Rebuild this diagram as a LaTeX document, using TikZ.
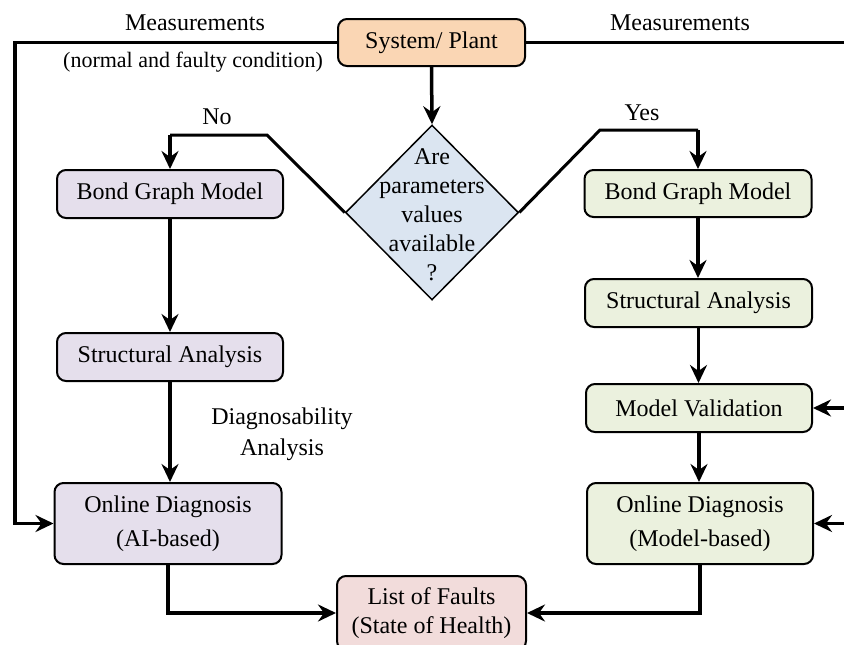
\documentclass[tikz,border=0pt]{standalone}
\usepackage{fontspec}
\setmainfont{Liberation Serif}
\usetikzlibrary{arrows.meta,shapes.geometric}
\definecolor{cOrange}{HTML}{FAD6B4}
\definecolor{cLav}{HTML}{E5DFEC}
\definecolor{cGreen}{HTML}{EBF1DE}
\definecolor{cBlue}{HTML}{DBE5F1}
\definecolor{cPink}{HTML}{F2DCDB}
\begin{document}
\begin{tikzpicture}[x=1pt,y=-1pt,
  every node/.style={font=\fontsize{24}{29}\selectfont, inner sep=0pt},
  box/.style={draw, line width=2pt, rounded corners=9pt, align=center},
  twoline/.style={font=\fontsize{24}{34}\selectfont},
  conn/.style={line width=3.5pt, -{Stealth[length=18pt,width=17pt,inset=6pt]}},
  plain/.style={line width=3.5pt},
  diag/.style={line width=3pt}]
\useasboundingbox (0,0) rectangle (844,645);
\clip (0,0) rectangle (844,645);
\fill[white] (0,0) rectangle (844,645);

% boxes
\node[box, fill=cOrange, minimum width=187pt, minimum height=47pt] (sys) at (431.5,42.5) {System/ Plant};
\node[draw, line width=1.5pt, fill=cBlue, shape=diamond, minimum width=173pt, minimum height=175pt] (dia) at (432,212.5) {};
\node[align=center] (diat) at (432,215) {Are\\parameters\\values\\available\\?};

\node[box, fill=cLav, minimum width=226pt, minimum height=48pt] (bgL) at (170,194) {Bond Graph Model};
\node[box, fill=cLav, minimum width=226pt, minimum height=48pt] (saL) at (170,357) {Structural Analysis};
\node[box, twoline, fill=cLav, minimum width=227pt, minimum height=81pt] (odL) at (168,523.5) {Online Diagnosis\\(AI-based)};

\node[box, fill=cGreen, minimum width=227pt, minimum height=47pt] (bgR) at (698,193.5) {Bond Graph Model};
\node[box, fill=cGreen, minimum width=227pt, minimum height=48pt] (saR) at (698.5,303) {Structural Analysis};
\node[box, fill=cGreen, minimum width=226pt, minimum height=48pt] (mvR) at (699,408) {Model Validation};
\node[box, twoline, fill=cGreen, minimum width=226pt, minimum height=81pt] (odR) at (700,523.5) {Online Diagnosis\\(Model-based)};

\node[box, fill=cPink, minimum width=189pt, minimum height=74pt] (lof) at (431.5,613) {List of Faults\\(State of Health)};

% labels
\node (mL) at (195,23) {Measurements};
\node[font=\fontsize{22}{26}\selectfont] (nf) at (193,62) {(normal and faulty condition)};
\node (mR) at (680,23) {Measurements};
\node (no) at (217,117) {No};
\node (yes) at (642,113) {Yes};
\node[align=center, font=\fontsize{24}{31}\selectfont] (da) at (282,434) {Diagnosability\\Analysis};

% coordinates
\coordinate (tl) at (15,42.5);
\coordinate (bl) at (15,523.5);
\coordinate (tr) at (850,42.5);
\coordinate (nL) at (267,135);
\coordinate (nL2) at (170,135);
\coordinate (yR) at (600,130);
\coordinate (yR2) at (698,130);
\coordinate (inMV) at (850,408);
\coordinate (inOD) at (850,523.5);
\coordinate (lL) at (168,613);
\coordinate (lR) at (700,613);

% connectors
\draw[conn] (sys.west) -- (tl) -- (bl) -- (odL.west);
\draw[plain] (sys.east) -- (tr);
\draw[conn] (sys.south) -- (dia.north);
\draw[diag] (dia.west) -- (nL) -- (nL2);
\draw[conn] (nL2) -- (bgL.north);
\draw[diag] (dia.east) -- (yR) -- (yR2);
\draw[conn] (yR2) -- (bgR.north);
\draw[conn] (bgL.south) -- (saL.north);
\draw[conn] (saL.south) -- (saL.south |- odL.north);
\draw[conn] (bgR.south) -- (bgR.south |- saR.north);
\draw[conn] (saR.south) -- (saR.south |- mvR.north);
\draw[conn] (mvR.south) -- (mvR.south |- odR.north);
\draw[conn] (inMV) -- (mvR.east);
\draw[conn] (inOD) -- (odR.east);
\draw[conn] (odL.south) -- (lL) -- (lof.west);
\draw[conn] (odR.south) -- (lR) -- (lof.east);
\end{tikzpicture}
\end{document}
